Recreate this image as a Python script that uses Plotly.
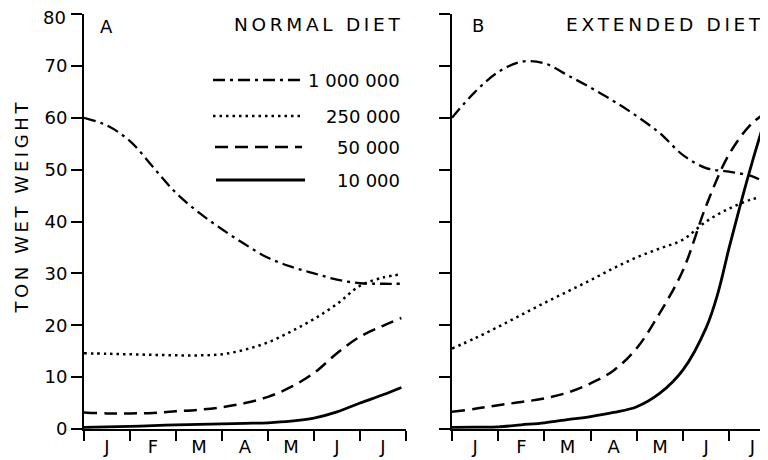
import plotly.graph_objects as go

# ---------------- data ----------------
months = ["J", "F", "M", "A", "M", "J", "J"]
month_pos = [0.5, 1.5, 2.5, 3.5, 4.5, 5.5, 6.5]
month_edges = [0, 1, 2, 3, 4, 5, 6, 7]

# Panel A - normal diet (x = months since 1 Jan)
a_t = [0, 0.5, 1.0, 1.5, 2.0, 2.5, 3.0, 3.5, 4.0, 4.5, 5.0, 5.5, 6.0, 6.5, 6.9]
a_1000000 = [60, 58.5, 55.5, 50.5, 45.5, 41.7, 38.5, 35.6, 33.0, 31.3, 30.0, 28.8, 28.1, 28.0, 28.0]
a_250000 = [14.6, 14.5, 14.4, 14.3, 14.2, 14.2, 14.4, 15.3, 16.7, 18.8, 21.2, 24.1, 27.6, 29.2, 29.8]
a_50000 = [3.2, 3.0, 3.0, 3.1, 3.4, 3.7, 4.2, 5.0, 6.2, 8.1, 10.8, 14.6, 17.8, 19.9, 21.4]
a_10000 = [0.3, 0.4, 0.5, 0.65, 0.8, 0.9, 1.0, 1.1, 1.2, 1.5, 2.1, 3.3, 5.0, 6.6, 8.0]

# Panel B - extended diet
b_t = [0, 0.5, 1.0, 1.5, 2.0, 2.5, 3.0, 3.5, 4.0, 4.5, 5.0, 5.5, 6.0, 6.5, 6.82]
b_1000000 = [60, 65, 68.8, 70.8, 70.5, 68.2, 65.8, 63.2, 60.3, 57.0, 52.8, 50.3, 49.6, 48.7, 47.3]
b_250000 = [15.5, 17.5, 19.7, 22.0, 24.3, 26.5, 28.7, 31.0, 33.1, 34.8, 36.5, 40.0, 42.5, 44.3, 44.8]
b_50000 = [3.3, 3.9, 4.6, 5.2, 5.9, 7.0, 8.8, 11.3, 15.6, 22.4, 30.6, 43.0, 53.0, 59.0, 61.0]
b_10000_t = [0, 0.5, 1.0, 1.5, 2.0, 2.5, 3.0, 3.5, 4.0, 4.5, 5.0, 5.5, 5.75, 6.0, 6.25, 6.5, 6.82]
b_10000 = [0.3, 0.35, 0.4, 0.8, 1.2, 1.8, 2.4, 3.2, 4.3, 6.9, 11.4, 19.5, 26.0, 35.0, 43.5, 51.5, 61.0]

series_names = ["1 000 000", "250 000", "50 000", "10 000"]
y_ticks = [0, 10, 20, 30, 40, 50, 60, 70, 80]
y_ticktext = [str(v) for v in y_ticks]

# ---------------- styling ----------------
FONT = "DejaVu Sans"
dashes = ["12px,5px,3px,5px", "2.5px,4px", "13px,7px", "solid"]
widths = [2.3, 2.5, 2.5, 2.8]

# page body has an 8px margin, so the figure is drawn 8px smaller and
# all reference pixel positions are shifted by 8px
OFF = 8
FIG_W, FIG_H = 768 - OFF, 460 - OFF
L, T, W, H = 84 - OFF, 14 - OFF, 684, 415   # plot area in figure pixels


def pxx(x):
    return (x - OFF - L) / W


def pxy(y):
    return (T + H - (y - OFF)) / H


fig = go.Figure()

a_series = [a_1000000, a_250000, a_50000, a_10000]
b_series = [b_1000000, b_250000, b_50000, b_10000]
b_ts = [b_t, b_t, b_t, b_10000_t]

for name, ys, d, w in zip(series_names, a_series, dashes, widths):
    fig.add_trace(go.Scatter(x=a_t, y=ys, mode="lines", name=name,
                             line=dict(color="black", width=w, dash=d, shape="spline", smoothing=1.0),
                             xaxis="x", yaxis="y", showlegend=False))
for name, ts, ys, d, w in zip(series_names, b_ts, b_series, dashes, widths):
    fig.add_trace(go.Scatter(x=ts, y=ys, mode="lines", name=name,
                             line=dict(color="black", width=w, dash=d, shape="spline", smoothing=1.0),
                             xaxis="x2", yaxis="y2", showlegend=False))

x_common = dict(
    tickvals=month_pos, ticktext=months, ticks="", ticklen=0,
    showgrid=False, zeroline=False, showline=True, linecolor="black", linewidth=2,
    tickfont=dict(family=FONT, size=18, color="black"),
    minor=dict(tickvals=month_edges, ticks="outside", ticklen=10, tickwidth=2, tickcolor="black"),
    fixedrange=True, automargin=False, ticklabeloverflow="allow",
)
y_common = dict(
    range=[0, 80], tickvals=y_ticks, ticks="outside", ticklen=11, tickwidth=2, tickcolor="black",
    showgrid=False, zeroline=False, showline=True, linecolor="black", linewidth=2,
    tickfont=dict(family=FONT, size=18, color="black"), fixedrange=True, automargin=False,
    ticklabeloverflow="allow",
)

d1 = pxx(406)
d2 = pxx(452)

# the top label ("80") would touch the page edge, so it is drawn as text just below
left_ticktext = y_ticktext[:-1] + [""]

fig.update_layout(
    width=FIG_W, height=FIG_H,
    margin=dict(l=L, r=0, t=T, b=FIG_H - T - H, autoexpand=False),
    paper_bgcolor="white", plot_bgcolor="white",
    xaxis=dict(domain=[0, d1], range=[0, 7], anchor="y", **x_common),
    xaxis2=dict(domain=[d2, 1], range=[0, (768 - 452) / 46.2], anchor="y2", **x_common),
    yaxis=dict(domain=[0, 1], anchor="x", showticklabels=True, ticktext=left_ticktext, **y_common),
    yaxis2=dict(domain=[0, 1], anchor="x2", showticklabels=False, **y_common),
)

ts = "\u2009"


def spaced(s):
    out = []
    for word in s.split(" "):
        out.append(ts.join(word))
    return (ts + " " + ts).join(out)


ann = []
ann.append(dict(x=pxx(68), y=pxy(17.5), text=y_ticktext[-1], xanchor="right"))
ann.append(dict(x=pxx(106), y=pxy(27), text="A"))
ann.append(dict(x=pxx(478), y=pxy(25), text="B"))
ann.append(dict(x=pxx(402), y=pxy(24.5), text=spaced("NORMAL DIET"), xanchor="right", font_size=18.5))
ann.append(dict(x=pxx(763), y=pxy(24.5), text=spaced("EXTENDED DIET"), xanchor="right", font_size=18.5))
ann.append(dict(x=pxx(21), y=pxy(207.5), text=spaced("TON WET WEIGHT"), textangle=-90))

leg_y = [80, 116, 147, 180]
leg_x0 = [213, 213, 215, 216]
leg_x1 = [302, 303, 302, 305]
for name, yy, d, w, x0, x1 in zip(series_names, leg_y, dashes, widths, leg_x0, leg_x1):
    ann.append(dict(x=pxx(402), y=pxy(yy), text=name, xanchor="right"))
    fig.add_shape(type="line", xref="paper", yref="paper",
                  x0=pxx(x0), x1=pxx(x1), y0=pxy(yy), y1=pxy(yy),
                  line=dict(color="black", width=w, dash=d))

for a in ann:
    base = dict(xref="paper", yref="paper", showarrow=False, xanchor="center", yanchor="middle",
                font=dict(family=FONT, size=18, color="black"))
    fs = a.pop("font_size", None)
    base.update(a)
    if fs:
        base["font"] = dict(family=FONT, size=fs, color="black")
    fig.add_annotation(**base)

fig.write_html("out.html")
